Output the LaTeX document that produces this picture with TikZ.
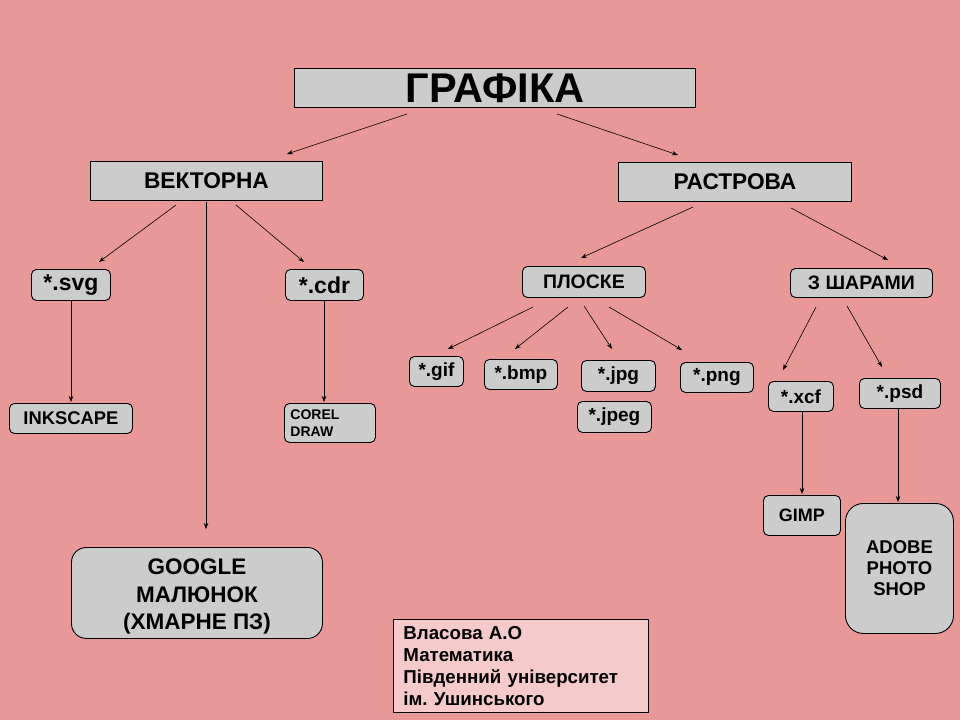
\documentclass[tikz,border=0pt]{standalone}
\usepackage{fontspec}
\setmainfont{Liberation Sans}
\usetikzlibrary{arrows.meta}
\definecolor{bg}{RGB}{233,152,152}
\definecolor{boxgray}{RGB}{204,204,204}
\definecolor{infopink}{RGB}{245,202,202}
\newcommand{\fs}[1]{\bfseries\fontsize{#1}{#1}\selectfont}
\frenchspacing
\begin{document}
\begin{tikzpicture}[x=1pt,y=-1pt,
  sq/.style={draw=black, fill=boxgray, line width=0.9pt, inner sep=0pt, anchor=north west, align=center},
  rd/.style={sq, rounded corners=5pt},
  arr/.style={line width=0.6pt, -{Stealth[length=6pt,width=4.5pt]}}]
\fill[bg] (0,0) rectangle (960,720);
\useasboundingbox (0,0) rectangle (960,720);

% boxes
\node[sq, minimum width=401pt, minimum height=39pt, font=\fs{41.5}] (graf) at (294,68) {ГРАФІКА};
\node[sq, minimum width=232pt, minimum height=39pt, font=\fs{22.7}] (vect) at (90,161) {ВЕКТОРНА};
\node[sq, minimum width=233pt, minimum height=39pt, font=\fs{22.7}] (rast) at (618,162) {РАСТРОВА};

\node[rd, minimum width=79pt, minimum height=31pt, font=\fs{23}] (svg) at (31,269) {*.svg};
\node[rd, minimum width=78pt, minimum height=31pt, font=\fs{23}] (cdr) at (285,269) {*.cdr};
\node[rd, minimum width=123pt, minimum height=30pt, font=\fs{18.4}] (ink) at (9,403) {INKSCAPE};
\node[rd, minimum width=91pt, minimum height=39pt, font=\bfseries\fontsize{14}{17}\selectfont, align=left, text width=79pt, inner xsep=6pt] (corel) at (284,403) {COREL\\DRAW};
\node[rd, rounded corners=15pt, minimum width=251pt, minimum height=91pt] (google) at (71,547) {};
\node[inner sep=0pt, align=center, font=\bfseries\fontsize{22.5}{27.5}\selectfont] (googletxt) at ([yshift=-4pt]google.center) {GOOGLE\\МАЛЮНОК\\(ХМАРНЕ ПЗ)};

\node[rd, minimum width=123pt, minimum height=31pt, font=\fs{19.5}] (plos) at (522,266) {ПЛОСКЕ};
\node[rd, minimum width=142pt, minimum height=29pt, font=\fs{19.5}] (shar) at (790,268) {З ШАРАМИ};

\node[rd, minimum width=54pt, minimum height=30pt, font=\fs{19}] (gif) at (409,356) {*.gif};
\node[rd, minimum width=73pt, minimum height=30pt, font=\fs{19}] (bmp) at (484,359) {*.bmp};
\node[rd, minimum width=74pt, minimum height=31pt, font=\fs{19}] (jpg) at (581,360) {*.jpg};
\node[rd, minimum width=74pt, minimum height=31pt, font=\fs{19}] (jpeg) at (577,401) {*.jpeg};
\node[rd, minimum width=73pt, minimum height=30pt, font=\fs{19}] (png) at (680,362) {*.png};
\node[rd, minimum width=65pt, minimum height=30pt, font=\fs{19}] (xcf) at (768,381) {*.xcf};
\node[rd, minimum width=81pt, minimum height=30pt, font=\fs{19}] (psd) at (859,378) {*.psd};
\node[rd, minimum width=77pt, minimum height=40pt, font=\fs{18}] (gimp) at (763,495) {GIMP};
\node[rd, rounded corners=18pt, minimum width=108pt, minimum height=130pt, font=\bfseries\fontsize{18.5}{21}\selectfont] (adobe) at (845,503) {ADOBE\\PHOTO\\SHOP};

\node[sq, fill=infopink, minimum width=255pt, minimum height=93pt, align=left, text width=235pt, inner xsep=10pt, font=\bfseries\fontsize{18.7}{22}\selectfont] (info) at (393,619) {Власова А.О\\Математика\\Південний університет\\ім. Ушинського};

% connector endpoints
\coordinate (g1) at (407,114); \coordinate (g1e) at (287,154);
\coordinate (g2) at (557,114); \coordinate (g2e) at (678,155);
\coordinate (v1) at (176,205); \coordinate (v1e) at (99,262);
\coordinate (v2) at (206,202); \coordinate (v2e) at (206,529);
\coordinate (v3) at (236,205); \coordinate (v3e) at (304,262);
\coordinate (r1) at (693,207); \coordinate (r1e) at (581,258);
\coordinate (r2) at (791,208); \coordinate (r2e) at (888,260);
\coordinate (s1) at (71,300);  \coordinate (s1e) at (71,402);
\coordinate (c1) at (324,300); \coordinate (c1e) at (324,402);
\coordinate (p1) at (533,307); \coordinate (p1e) at (448,349);
\coordinate (p2) at (568,307); \coordinate (p2e) at (515,349);
\coordinate (p3) at (584,306); \coordinate (p3e) at (612,349);
\coordinate (p4) at (609,307); \coordinate (p4e) at (682,350);
\coordinate (h1) at (816,307); \coordinate (h1e) at (783,370);
\coordinate (h2) at (847,306); \coordinate (h2e) at (882,367);
\coordinate (x1) at (802,411); \coordinate (x1e) at (802,494);
\coordinate (d1) at (898,408); \coordinate (d1e) at (898,502);

\foreach \a in {g1,g2,v1,v2,v3,r1,r2,s1,c1,p1,p2,p3,p4,h1,h2,x1,d1}
  \draw[arr] (\a) -- (\a e);
\end{tikzpicture}
\end{document}
